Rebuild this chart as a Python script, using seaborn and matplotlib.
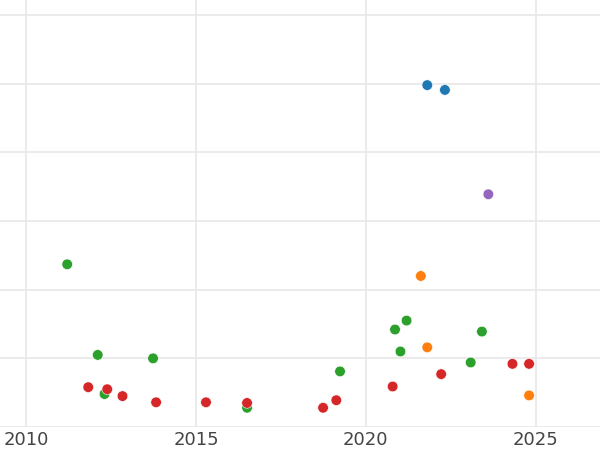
import pandas as pd
import matplotlib
matplotlib.use('Agg')
import matplotlib.pyplot as plt
import seaborn as sns

# values (x = year, y = arbitrary units, grid every 10)
groups = ['A', 'B', 'C', 'D', 'E']
colors = ['#1f77b4', '#ff7f0e', '#2ca02c', '#d62728', '#9467bd']

blue_x = [2021.81, 2022.33]
blue_y = [49.8, 49.1]
orange_x = [2021.62, 2021.81, 2024.81]
orange_y = [22.0, 11.6, 4.6]
green_x = [2011.20, 2012.10, 2012.30, 2013.73, 2016.50, 2019.24,
           2020.86, 2021.02, 2021.20, 2023.09, 2023.42]
green_y = [23.7, 10.5, 4.8, 10.0, 2.8, 8.1, 14.2, 11.0, 15.5, 9.4, 13.9]
red_x = [2011.82, 2012.38, 2012.83, 2013.82, 2015.29, 2016.50,
         2018.74, 2019.13, 2020.79, 2022.22, 2024.32, 2024.81]
red_y = [5.8, 5.5, 4.5, 3.6, 3.6, 3.5, 2.8, 3.9, 5.9, 7.7, 9.2, 9.2]
purple_x = [2023.61]
purple_y = [33.9]

xs = [blue_x, orange_x, green_x, red_x, purple_x]
ys = [blue_y, orange_y, green_y, red_y, purple_y]
rows = []
for g, gx, gy in zip(groups, xs, ys):
    for a, b in zip(gx, gy):
        rows.append({'year': a, 'value': b, 'group': g})
df = pd.DataFrame(rows)

sns.set_style('whitegrid', {'grid.color': '#e8e8e8', 'axes.edgecolor': 'white'})
fig = plt.figure(figsize=(6, 4.5), dpi=100)
ax = fig.add_axes([0, 23 / 450, 1, 427 / 450])

sns.scatterplot(data=df, x='year', y='value', hue='group', palette=colors,
                hue_order=groups, s=58, edgecolor='white', linewidth=0.4,
                legend=False, ax=ax)

ax.set_xlim(2009.22, 2026.9)
ax.set_ylim(0, 62.2)
ax.set_xticks([2010, 2015, 2020, 2025])
ax.set_yticks([0, 10, 20, 30, 40, 50, 60])
ax.set_yticklabels([])
ax.set_xlabel('')
ax.set_ylabel('')
ax.tick_params(axis='x', labelsize=13, labelcolor='#444444', length=0, pad=3)
ax.tick_params(axis='y', length=0)
ax.grid(True, linewidth=1.2)
for s in ax.spines.values():
    s.set_visible(False)

fig.savefig('out.png', dpi=100)
